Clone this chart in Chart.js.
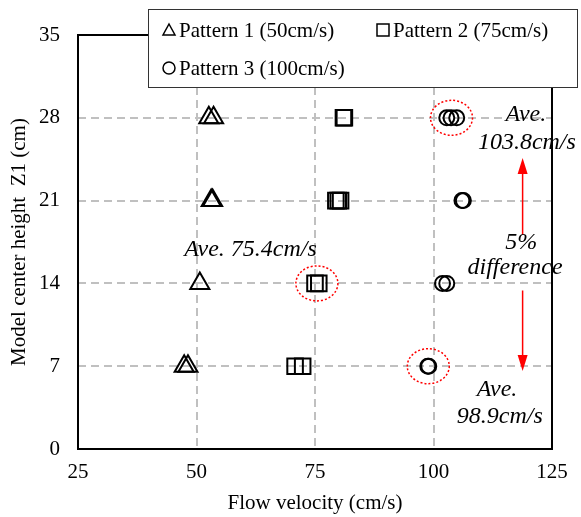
<!DOCTYPE html>
<html>
<head>
<meta charset="utf-8">
<script src="https://cdn.jsdelivr.net/npm/chart.js@4.4.1/dist/chart.umd.min.js"></script>
<style>
    html, body { margin: 0; padding: 0; background: #fff; }
</style>
</head>
<body>
<canvas id="grafico" width="581" height="517"></canvas>
<script>
    // series (velocity in cm/s, model centre height Z1 in cm)
    const rotulos = ['Pattern 1 (50cm/s)', 'Pattern 2 (75cm/s)', 'Pattern 3 (100cm/s)'];
    const p1Vel = [47.4, 48.2, 50.7, 53.1, 53.4, 52.6, 53.6];
    const p1Z   = [7, 7, 14, 21, 21, 28, 28];
    const p2Vel = [70.8, 72.4, 75.0, 75.8, 79.4, 79.9, 80.4, 81.0, 81.2];
    const p2Z   = [7, 7, 14, 14, 21, 21, 21, 28, 28];
    const p3Vel = [98.8, 99.0, 101.9, 102.8, 106.0, 106.3, 102.8, 103.7, 104.9];
    const p3Z   = [7, 7, 14, 14, 21, 21, 28, 28, 28];

    // averages circled in red
    const mediaVel = [103.8, 75.4, 98.9];
    const mediaZ   = [28, 14, 7];

    // annotation texts
    const textos    = ['Ave.', '103.8cm/s', 'Ave. 75.4cm/s', '5%', 'difference', 'Ave.', '98.9cm/s'];
    const textosVel = [119.5, 119.7, 61.4, 118.5, 117.2, 113.4, 114.0];
    const textosZ   = [27.7, 25.4, 16.32, 16.91, 14.8, 4.45, 2.2];

    // red arrows
    const setaVel = 118.8;
    const setaDe  = [18.1, 13.4];
    const setaAte = [24.6, 6.6];

    const pontos = (xs, ys) => xs.map((x, i) => ({ x, y: ys[i] }));
    const FONTE = 'Liberation Serif';

    function simbolo(ctx, tipo, x, y) {
        ctx.beginPath();
        if (tipo === 'triangle') {
            ctx.moveTo(x, y - 6);
            ctx.lineTo(x + 6, y + 5);
            ctx.lineTo(x - 6, y + 5);
            ctx.closePath();
        } else if (tipo === 'rect') {
            ctx.rect(x - 6, y - 6, 12, 12);
        } else {
            ctx.arc(x, y, 6, 0, Math.PI * 2);
        }
        ctx.stroke();
    }

    const anotacoes = {
        id: 'anotacoes',
        afterDatasetsDraw(chart) {
            const ctx = chart.ctx;
            const ca = chart.chartArea;
            const sx = chart.scales.x;
            const sy = chart.scales.y;
            ctx.save();

            // frame
            ctx.setLineDash([]);
            ctx.strokeStyle = '#000';
            ctx.lineWidth = 2;
            ctx.strokeRect(ca.left, ca.top, ca.right - ca.left, ca.bottom - ca.top);

            // dotted ellipses
            ctx.strokeStyle = '#ff0000';
            ctx.lineWidth = 1.5;
            ctx.setLineDash([2, 2]);
            mediaVel.forEach((v, i) => {
                ctx.beginPath();
                ctx.ellipse(sx.getPixelForValue(v), sy.getPixelForValue(mediaZ[i]), 21, 17.5, 0, 0, Math.PI * 2);
                ctx.stroke();
            });

            // arrows
            ctx.setLineDash([]);
            ctx.fillStyle = '#ff0000';
            const ax = sx.getPixelForValue(setaVel);
            setaDe.forEach((de, i) => {
                const y0 = sy.getPixelForValue(de);
                const y1 = sy.getPixelForValue(setaAte[i]);
                const dir = y1 < y0 ? 1 : -1;
                ctx.beginPath();
                ctx.moveTo(ax, y0);
                ctx.lineTo(ax, y1 + dir * 14);
                ctx.stroke();
                ctx.beginPath();
                ctx.moveTo(ax, y1);
                ctx.lineTo(ax - 5, y1 + dir * 16);
                ctx.lineTo(ax + 5, y1 + dir * 16);
                ctx.closePath();
                ctx.fill();
            });

            // texts
            ctx.fillStyle = '#000';
            ctx.font = 'italic 24px "' + FONTE + '"';
            ctx.textAlign = 'center';
            ctx.textBaseline = 'alphabetic';
            textos.forEach((t, i) => {
                ctx.fillText(t, sx.getPixelForValue(textosVel[i]), sy.getPixelForValue(textosZ[i]));
            });

            // legend box
            ctx.fillStyle = '#fff';
            ctx.fillRect(148, 9, 429, 78);
            ctx.strokeStyle = '#333';
            ctx.lineWidth = 1;
            ctx.strokeRect(148.5, 9.5, 429, 78);
            const posicoes = [[169, 30], [383, 30], [169, 68]];
            ctx.font = '21px "' + FONTE + '"';
            ctx.textAlign = 'left';
            chart.data.datasets.forEach((ds, i) => {
                const [px, py] = posicoes[i];
                ctx.strokeStyle = '#000';
                ctx.lineWidth = 1.5;
                simbolo(ctx, ds.pointStyle, px, py);
                ctx.fillStyle = '#000';
                ctx.fillText(ds.label, px + 10, py + 7);
            });
            ctx.restore();
        }
    };

    function serie(label, xs, ys, estilo, raio) {
        return {
            label,
            data: pontos(xs, ys),
            pointStyle: estilo,
            radius: raio,
            borderColor: '#000',
            backgroundColor: 'rgba(0,0,0,0)',
            borderWidth: 2,
            showLine: false
        };
    }

    new Chart(document.getElementById('grafico'), {
        type: 'scatter',
        data: {
            datasets: [
                serie(rotulos[0], p1Vel, p1Z, 'triangle', 11),
                serie(rotulos[1], p2Vel, p2Z, 'rect', 11),
                serie(rotulos[2], p3Vel, p3Z, 'circle', 7.5)
            ]
        },
        options: {
            responsive: false,
            animation: false,
            devicePixelRatio: 1,
            layout: { padding: { left: 0, right: 29, top: 35, bottom: 0 } },
            plugins: { legend: { display: false }, tooltip: { enabled: false } },
            scales: {
                x: {
                    type: 'linear',
                    min: 25,
                    max: 125,
                    afterFit: s => { s.height = 68; },
                    ticks: { stepSize: 25, color: '#000', padding: 11, font: { family: FONTE, size: 21 } },
                    grid: { color: '#c0c0c0', lineWidth: 2, drawTicks: false },
                    border: { display: false, dash: [8, 5] },
                    title: { display: true, text: 'Flow velocity (cm/s)', color: '#000', padding: { top: 0, bottom: 1 }, font: { family: FONTE, size: 21 } }
                },
                y: {
                    min: 0,
                    max: 35,
                    afterFit: s => { s.width = 78; },
                    ticks: { stepSize: 7, color: '#000', padding: 18, font: { family: FONTE, size: 21 } },
                    grid: { color: '#c0c0c0', lineWidth: 2, drawTicks: false },
                    border: { display: false, dash: [8, 5] },
                    title: { display: true, text: 'Model center height  Z1 (cm)', color: '#000', padding: { top: 7, bottom: 0 }, font: { family: FONTE, size: 21 } }
                }
            }
        },
        plugins: [anotacoes]
    });
</script>
</body>
</html>
